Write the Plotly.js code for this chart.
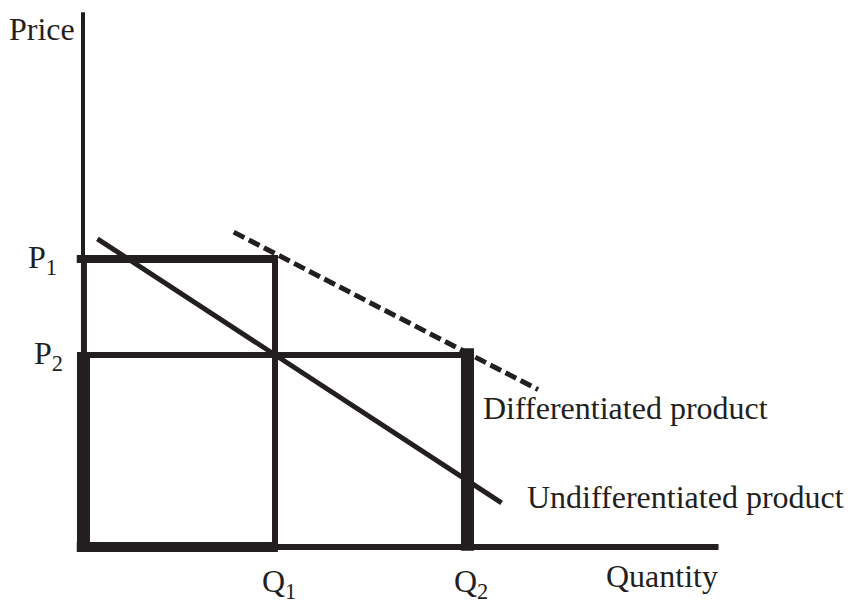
<!DOCTYPE html>
<html>
<head>
<meta charset="utf-8">
<script src="https://cdn.plot.ly/plotly-3.0.1.min.js"></script>
<style>html,body{margin:0;padding:0;background:#fff;}#chart{width:848px;height:603px;}</style>
</head>
<body>
<div id="chart"></div>
<script>
// Economic values (data units)
const prices = {P1: 3, P2: 2};
const quantities = {Q1: 2, Q2: 4};
const axisTop = 5.57;
const axisRight = 6.62;

// Demand curves (quantity, price)
const undiffQ = [0.15, 4.36];
const undiffP = [3.21, 0.46];
const diffQ = [1.57, 4.74];
const diffP = [3.28, 1.64];

// Labels
const priceLabels = ["P<sub>1</sub>", "P<sub>2</sub>"];
const quantityLabels = ["Q<sub>1</sub>", "Q<sub>2</sub>"];
const axisLabels = ["Price", "Quantity"];
const curveLabels = ["Differentiated product", "Undifferentiated product"];

const ink = "#231f20";
const P1 = prices.P1, P2 = prices.P2, Q1 = quantities.Q1, Q2 = quantities.Q2;

function seg(x, y, w, extra) {
  return Object.assign({type: "scatter", mode: "lines", x: x, y: y,
    line: {color: ink, width: w}, hoverinfo: "skip", showlegend: false}, extra || {});
}

const traces = [
  // axes
  seg([0, 0], [0, axisTop], 4),
  seg([-0.05, axisRight], [0, 0], 6),
  // box at P1, Q1
  seg([-0.065, Q1 + 0.03], [P1, P1], 8),
  seg([0.01, 0.01], [P2, P1], 6),
  seg([Q1, Q1], [0, P1 + 0.04], 6),
  seg([-0.065, Q1 + 0.03], [0, 0], 10),
  // box at P2, Q2
  seg([0, Q2], [P2, P2], 6),
  seg([0.005, 0.005], [-0.05, P2 + 0.03], 13),
  seg([Q2 + 0.005, Q2 + 0.005], [-0.04, P2 + 0.07], 13),
  // demand curves
  seg(undiffQ, undiffP, 5),
  seg(diffQ, diffP, 5, {line: {color: ink, width: 5, dash: "12px,5px"}})
];

const font = {family: "Liberation Serif, Times New Roman, serif", size: 32, color: ink};
function ann(text, x, y, xa, ya) {
  return {text: text, x: x, y: y, xref: "x", yref: "y", xanchor: xa, yanchor: ya || "middle",
    showarrow: false, font: font};
}

const annotations = [
  ann(axisLabels[0], -0.06, 5.40, "right"),
  ann(axisLabels[1], 5.43, -0.30, "left"),
  ann(priceLabels[0], -0.25, P1 - 0.01, "right"),
  ann(priceLabels[1], -0.19, P2 - 0.01, "right"),
  ann(quantityLabels[0], Q1 + 0.04, -0.38, "center"),
  ann(quantityLabels[1], Q2 + 0.04, -0.38, "center"),
  ann(curveLabels[0], 4.15, 1.45, "left"),
  ann(curveLabels[1], 4.60, 0.52, "left")
];

const hidden = {showgrid: false, zeroline: false, showticklabels: false, showline: false, ticks: "", fixedrange: true};

const layout = {
  width: 848, height: 603,
  margin: {l: 0, r: 0, t: 0, b: 0, pad: 0},
  paper_bgcolor: "#fff", plot_bgcolor: "#fff",
  xaxis: Object.assign({range: [-83/96, 765/96]}, hidden),
  yaxis: Object.assign({range: [-56/96, 547/96]}, hidden),
  annotations: annotations,
  showlegend: false
};

Plotly.newPlot("chart", traces, layout, {displayModeBar: false, staticPlot: true});
</script>
</body>
</html>
